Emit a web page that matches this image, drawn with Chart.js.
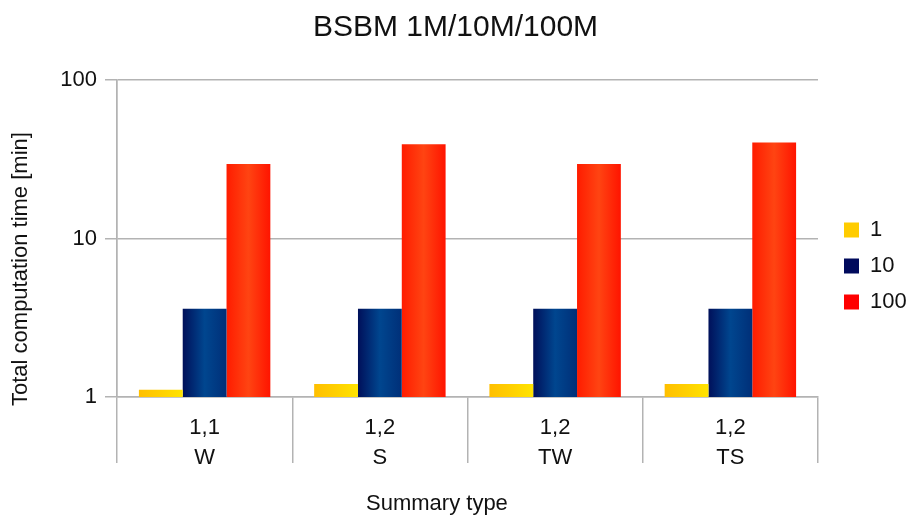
<!DOCTYPE html>
<html>
<head>
<meta charset="utf-8">
<title>BSBM 1M/10M/100M</title>
<script src="https://cdn.jsdelivr.net/npm/chart.js@4/dist/chart.umd.min.js"></script>
<style>
  html, body { margin: 0; padding: 0; background: #fff; }
  #wrap { width: 911px; height: 522px; }
</style>
</head>
<body>
<div id="wrap"><canvas id="chartCanvas" width="911" height="522"></canvas></div>
<script>
const categories = [['1,1', 'W'], ['1,2', 'S'], ['1,2', 'TW'], ['1,2', 'TS']];
const seriesNames = ['1', '10', '100'];
const values1M = [1.11, 1.21, 1.21, 1.21];
const values10M = [3.6, 3.6, 3.6, 3.6];
const values100M = [29.5, 39.3, 29.5, 40.4];
const yTicks = [1, 10, 100];

const legendColors = ['#ffcc00', '#000a5c', '#ff0000'];
// left edge, middle, right edge of each bar
const barShades = [
  ['#ffbf00', '#ffd000', '#ffe400'],
  ['#00105a', '#00468f', '#002f78'],
  ['#ff1c00', '#ff4412', '#ff1400']
];
const gridGray = '#b3b3b3';
const textColor = '#111';
const fontFamily = "'Liberation Sans', Arial, sans-serif";

const shadePlugin = {
  id: 'shade',
  beforeDatasetsDraw(chart) {
    const ctx = chart.ctx;
    chart.data.datasets.forEach((ds, i) => {
      const s = barShades[i];
      chart.getDatasetMeta(i).data.forEach(bar => {
        const x0 = bar.x - bar.width / 2;
        const x1 = bar.x + bar.width / 2;
        if (!isFinite(x0) || !isFinite(x1)) return;
        const g = ctx.createLinearGradient(x0, 0, x1, 0);
        g.addColorStop(0, s[0]);
        g.addColorStop(0.5, s[1]);
        g.addColorStop(1, s[2]);
        bar.options = Object.assign({}, bar.options, { backgroundColor: g });
      });
    });
  }
};

const ctx = document.getElementById('chartCanvas').getContext('2d');
new Chart(ctx, {
  type: 'bar',
  data: {
    labels: categories,
    datasets: [
      { label: seriesNames[0], data: values1M, backgroundColor: legendColors[0] },
      { label: seriesNames[1], data: values10M, backgroundColor: legendColors[1] },
      { label: seriesNames[2], data: values100M, backgroundColor: legendColors[2] }
    ]
  },
  options: {
    responsive: false,
    animation: false,
    layout: { padding: 0 },
    datasets: {
      bar: { categoryPercentage: 0.75, barPercentage: 1.0, borderWidth: 0 }
    },
    scales: {
      x: {
        offset: true,
        grid: {
          offset: true,
          drawOnChartArea: true,
          color: c => (c.index === 0 || c.index === categories.length) ? gridGray : 'rgba(0,0,0,0)',
          tickColor: gridGray,
          tickLength: 66,
          lineWidth: 1.5
        },
        border: { color: gridGray, width: 1.5 },
        ticks: {
          padding: -50,
          color: textColor,
          font: { family: fontFamily, size: 22, lineHeight: 1.36 },
          maxRotation: 0,
          autoSkip: false
        },
        title: {
          display: true,
          // trailing spaces shift the title left, as in the original
          text: 'Summary type          ',
          color: textColor,
          font: { family: fontFamily, size: 22, lineHeight: 1.2 },
          padding: { top: 6, bottom: 5 }
        },
        afterFit: s => { s.height = 125; }
      },
      y: {
        type: 'logarithmic',
        min: 1,
        max: 100,
        afterBuildTicks: s => { s.ticks = yTicks.map(v => ({ value: v })); },
        grid: { color: gridGray, tickColor: gridGray, tickLength: 12, lineWidth: 1.5 },
        border: { color: gridGray, width: 1.5 },
        ticks: {
          padding: 8,
          color: textColor,
          font: { family: fontFamily, size: 22 },
          callback: v => String(v)
        },
        title: {
          display: true,
          // trailing spaces push the rotated title down, as in the original
          text: 'Total computation time [min]          ',
          color: textColor,
          font: { family: fontFamily, size: 22, lineHeight: 1.2 },
          padding: { top: 8, bottom: 0 }
        },
        afterFit: s => { s.width = 117; }
      },
      y2: {
        position: 'right',
        display: true,
        grid: { display: false },
        border: { display: false },
        ticks: { display: false },
        afterFit: s => { s.width = 12; }
      }
    },
    plugins: {
      title: {
        display: true,
        text: 'BSBM 1M/10M/100M',
        color: textColor,
        font: { family: fontFamily, size: 30, weight: 'normal', lineHeight: 1.2 },
        padding: { top: 10, bottom: 34 }
      },
      legend: {
        position: 'right',
        maxWidth: 81,
        title: { display: true, text: ' ', font: { size: 10, lineHeight: 1 }, padding: 0 },
        labels: {
          boxWidth: 15,
          boxHeight: 15,
          padding: 14,
          color: textColor,
          font: { family: fontFamily, size: 22 },
          generateLabels: chart => chart.data.datasets.map((ds, i) => ({
            text: ds.label,
            fillStyle: legendColors[i],
            strokeStyle: legendColors[i],
            fontColor: textColor,
            lineWidth: 0,
            hidden: false,
            datasetIndex: i
          }))
        }
      },
      tooltip: { enabled: false }
    }
  },
  plugins: [shadePlugin]
});
</script>
</body>
</html>
